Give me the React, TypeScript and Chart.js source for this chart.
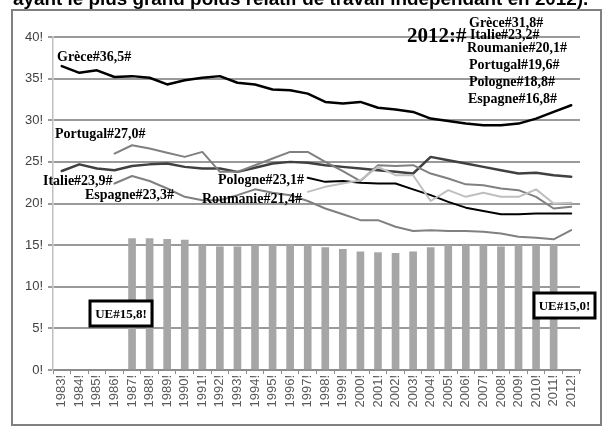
import React, { useEffect, useRef } from "react";
import { Chart, registerables } from "chart.js";

Chart.register(...registerables);

const years = [
  "1983", "1984", "1985", "1986", "1987", "1988", "1989", "1990", "1991", "1992",
  "1993", "1994", "1995", "1996", "1997", "1998", "1999", "2000", "2001", "2002",
  "2003", "2004", "2005", "2006", "2007", "2008", "2009", "2010", "2011", "2012",
];
const xTickLabels = [
  "1983!", "1984!", "1985!", "1986!", "1987!", "1988!", "1989!", "1990!", "1991!", "1992!",
  "1993!", "1994!", "1995!", "1996!", "1997!", "1998!", "1999!", "2000!", "2001!", "2002!",
  "2003!", "2004!", "2005!", "2006!", "2007!", "2008!", "2009!", "2010!", "2011!", "2012!",
];
const yTickSuffix = "!";

const ue = [
  null, null, null, null,
  15.8, 15.8, 15.7, 15.6, 15.0, 14.8, 14.8, 15.0, 15.0, 15.0, 15.0, 14.7, 14.5,
  14.2, 14.1, 14.0, 14.2, 14.7, 15.0, 15.0, 15.0, 14.8, 15.0, 15.0, 15.0,
  null,
];
const grece = [
  36.5, 35.7, 36.0, 35.2, 35.3, 35.1, 34.3, 34.8, 35.1, 35.3,
  34.5, 34.3, 33.7, 33.6, 33.2, 32.2, 32.0, 32.2, 31.5, 31.3,
  31.0, 30.2, 29.9, 29.6, 29.4, 29.4, 29.6, 30.2, 31.0, 31.8,
];
const italie = [
  23.9, 24.7, 24.2, 24.0, 24.5, 24.7, 24.8, 24.4, 24.2, 24.2,
  23.8, 24.3, 24.8, 25.0, 24.9, 24.6, 24.4, 24.2, 24.0, 23.8,
  23.6, 25.6, 25.2, 24.8, 24.4, 24.0, 23.6, 23.7, 23.4, 23.2,
];
const portugal = [
  null, null, null,
  26.0, 27.0, 26.6, 26.1, 25.6, 26.2, 23.8,
  23.8, 24.6, 25.4, 26.2, 26.2, 25.0, 23.9, 22.7, 24.6, 24.5,
  24.6, 23.6, 23.0, 22.3, 22.2, 21.8, 21.6, 20.8, 19.4, 19.6,
];
const espagne = [
  null, null, null,
  22.4, 23.3, 22.7, 21.8, 20.8, 20.4, 20.4,
  21.0, 21.7, 21.3, 21.0, 20.3, 19.4, 18.7, 18.0, 18.0, 17.2,
  16.7, 16.8, 16.7, 16.7, 16.6, 16.4, 16.0, 15.9, 15.7, 16.8,
];
const pologne = [
  null, null, null, null, null, null, null, null, null, null, null, null, null, null,
  23.1, 22.6, 22.7, 22.5, 22.4, 22.4, 21.7, 21.0, 20.2, 19.5, 19.1, 18.7, 18.7, 18.8, 18.8, 18.8,
];
const roumanie = [
  null, null, null, null, null, null, null, null, null, null, null, null, null, null,
  21.4, 22.0, 22.4, 22.8, 24.4, 23.4, 23.4, 20.3, 21.6, 20.8, 21.3, 20.8, 20.8, 21.7, 20.0, 20.1,
];

const titleText = "ayant le plus grand poids relatif de travail indépendant en 2012).";

const labelFont = "bold 14px 'Liberation Serif', serif";

const overlayPlugin = {
  id: "overlay",
  beforeDraw(chart: any) {
    const ctx = chart.ctx;
    ctx.save();
    ctx.fillStyle = "#ffffff";
    ctx.fillRect(0, 0, chart.width, chart.height);
    ctx.restore();
  },
  afterDraw(chart: any) {
    const ctx = chart.ctx;
    ctx.save();
    // frame
    ctx.strokeStyle = "#808080";
    ctx.lineWidth = 2;
    ctx.strokeRect(12, 10, 589, 415);

    // cropped title
    ctx.fillStyle = "#000000";
    ctx.textBaseline = "alphabetic";
    ctx.textAlign = "left";
    let size = 18;
    ctx.font = `bold ${size}px 'Liberation Sans', Arial, sans-serif`;
    const w = ctx.measureText(titleText).width;
    const target = 576;
    size = (size * target) / w;
    ctx.font = `bold ${size.toFixed(2)}px 'Liberation Sans', Arial, sans-serif`;
    ctx.fillText(titleText, 13, 5);

    // annotations
    ctx.font = labelFont;
    ctx.textBaseline = "middle";
    ctx.fillStyle = "#000000";
    const labels: [string, number, number][] = [
      ["Grèce#36,5#", 57, 57],
      ["Portugal#27,0#", 55, 134],
      ["Italie#23,9#", 43, 181],
      ["Espagne#23,3#", 85, 195],
      ["Pologne#23,1#", 218, 180],
      ["Roumanie#21,4#", 202, 199],
      ["Grèce#31,8#", 469, 23],
      ["Italie#23,2#", 470, 35],
      ["Roumanie#20,1#", 467, 48],
      ["Portugal#19,6#", 469, 65],
      ["Pologne#18,8#", 469, 82],
      ["Espagne#16,8#", 468, 99],
    ];
    for (const [t, x, y] of labels) ctx.fillText(t, x, y);

    ctx.font = "bold 21px 'Liberation Serif', serif";
    ctx.fillText("2012:#", 407, 37);

    // UE boxes
    const boxes: [string, number, number, number, number][] = [
      ["UE#15,8!", 90, 301, 62, 25],
      ["UE#15,0!", 534, 293, 61, 25],
    ];
    for (const [t, x, y, bw, bh] of boxes) {
      ctx.fillStyle = "#ffffff";
      ctx.fillRect(x, y, bw, bh);
      ctx.strokeStyle = "#000000";
      ctx.lineWidth = 3;
      ctx.strokeRect(x, y, bw, bh);
      ctx.fillStyle = "#000000";
      ctx.font = "bold 13px 'Liberation Serif', serif";
      ctx.textAlign = "center";
      ctx.fillText(t, x + bw / 2, y + bh / 2 + 1);
      ctx.textAlign = "left";
    }
    ctx.restore();
  },
};

export default function App() {
  const ref = useRef<HTMLCanvasElement>(null);
  useEffect(() => {
    if (!ref.current) return;
    const lineDs = (label: string, data: any[], color: string, width: number) => ({
      type: "line" as const,
      label,
      data,
      borderColor: color,
      backgroundColor: color,
      borderWidth: width,
      pointRadius: 0,
      tension: 0,
      spanGaps: false,
      borderJoinStyle: "round" as const,
      borderCapStyle: "round" as const,
      order: 1,
    });
    const chart = new Chart(ref.current, {
      type: "bar",
      data: {
        labels: years,
        datasets: [
          {
            type: "bar",
            label: "UE",
            data: ue as any,
            backgroundColor: "#a6a6a6",
            barThickness: 7,
            order: 10,
          },
          lineDs("Roumanie", roumanie, "#bfbfbf", 2),
          lineDs("Espagne", espagne, "#808080", 2),
          lineDs("Portugal", portugal, "#808080", 2),
          lineDs("Pologne", pologne, "#000000", 2),
          lineDs("Italie", italie, "#404040", 2.5),
          lineDs("Grèce", grece, "#000000", 2.5),
        ] as any,
      },
      options: {
        animation: false,
        responsive: false,
        maintainAspectRatio: false,
        layout: { padding: { top: 37, right: 24, left: 0, bottom: 0 } },
        plugins: { legend: { display: false }, tooltip: { enabled: false } },
        scales: {
          x: {
            offset: true,
            grid: {
              display: true,
              drawOnChartArea: false,
              drawTicks: true,
              tickLength: 4,
              color: "#8c8c8c",
              lineWidth: 1,
              offset: true,
            },
            border: { display: true, color: "#8c8c8c", width: 2 },
            ticks: {
              autoSkip: false,
              maxRotation: 90,
              minRotation: 90,
              padding: 1,
              color: "#595959",
              font: { family: "'Liberation Sans', Arial, sans-serif", size: 13 },
              callback: (_v: any, i: number) => xTickLabels[i],
            },
            afterFit: (scale: any) => {
              scale.height = 56;
            },
          },
          y: {
            min: 0,
            max: 40,
            ticks: {
              stepSize: 5,
              padding: 5,
              color: "#404040",
              font: { family: "'Liberation Sans', Arial, sans-serif", size: 13 },
              callback: (v: any) => `${v}${yTickSuffix}`,
            },
            grid: {
              color: "#9a9a9a",
              lineWidth: 2,
              drawTicks: true,
              tickLength: 5,
            },
            border: { display: true, color: "#c0c0c0", width: 1.5 },
            afterFit: (scale: any) => {
              scale.width = 53;
            },
          },
        },
      },
      plugins: [overlayPlugin],
    });
    return () => chart.destroy();
  }, []);
  return (
    <div style={{ position: "absolute", left: 0, top: 0, width: 604, height: 426 }}>
      <canvas ref={ref} width={604} height={426} style={{ width: 604, height: 426, display: "block" }} />
    </div>
  );
}
